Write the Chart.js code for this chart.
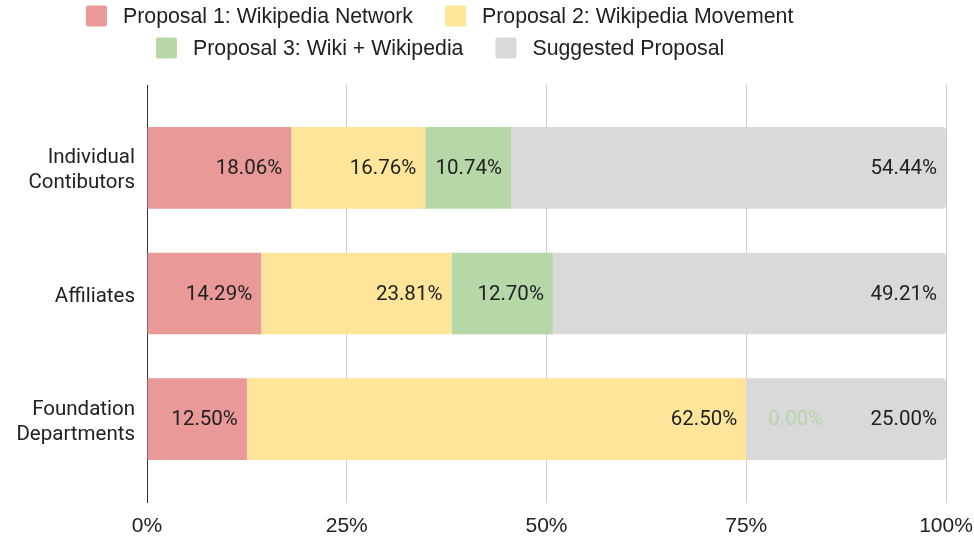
<!DOCTYPE html>
<html><head><meta charset="utf-8">
<script src="https://cdn.jsdelivr.net/npm/chart.js@4.4.0/dist/chart.umd.min.js"></script>
<style>html,body{margin:0;padding:0;background:#fff;}</style>
</head><body>
<canvas id="c" width="974" height="538"></canvas>
<script>
const categories = [['Individual', 'Contibutors'], 'Affiliates', ['Foundation', 'Departments']];
const seriesNames = ['Proposal 1: Wikipedia Network', 'Proposal 2: Wikipedia Movement', 'Proposal 3: Wiki + Wikipedia', 'Suggested Proposal'];
const proposal1 = [18.06, 14.29, 12.50];
const proposal2 = [16.76, 23.81, 62.50];
const proposal3 = [10.74, 12.70, 0.00];
const suggested = [54.44, 49.21, 25.00];
const xTickValues = [0, 25, 50, 75, 100];
const seriesColors = ['#ea9999', '#ffe599', '#b6d7a8', '#d9d9d9'];

const FONT = 'Roboto, "Liberation Sans", Arial, sans-serif';
const FONT2 = '"Liberation Sans", Arial, sans-serif';
const TEXT = '#212121';

const gridTop = {
  id: 'gridTop',
  beforeDatasetsDraw(chart) {
    const {ctx, chartArea, scales} = chart;
    ctx.save();
    ctx.lineWidth = 1;
    xTickValues.forEach(v => {
      const x = Math.round(scales.x.getPixelForValue(v) - 0.5) + 0.5;
      ctx.strokeStyle = v === 0 ? '#333333' : '#cccccc';
      ctx.beginPath();
      ctx.moveTo(x, 85);
      ctx.lineTo(x, chartArea.top);
      ctx.stroke();
    });
    ctx.restore();
  }
};

const valueLabels = {
  id: 'valueLabels',
  afterDatasetsDraw(chart) {
    const {ctx} = chart;
    ctx.save();
    ctx.font = '20.5px ' + FONT;
    ctx.textBaseline = 'middle';
    chart.data.datasets.forEach((ds, di) => {
      const meta = chart.getDatasetMeta(di);
      meta.data.forEach((el, i) => {
        const v = ds.data[i];
        const txt = v.toFixed(2) + '%';
        if (v > 0) {
          ctx.fillStyle = TEXT;
          ctx.textAlign = 'right';
          ctx.fillText(txt, el.x - 9, el.y + 1);
        } else {
          ctx.fillStyle = ds.backgroundColor;
          ctx.textAlign = 'left';
          ctx.fillText(txt, el.x + 22, el.y + 1);
        }
      });
    });
    ctx.restore();
  }
};

const customLegend = {
  id: 'customLegend',
  afterDraw(chart) {
    const {ctx} = chart;
    ctx.save();
    ctx.font = '21.3px ' + FONT2;
    ctx.textBaseline = 'middle';
    ctx.textAlign = 'left';
    const rows = [[0, 1], [2, 3]];
    const rowY = [16, 48];
    const box = 21, textOff = 37, gap = 32, center = 440;
    rows.forEach((row, r) => {
      const widths = row.map(i => textOff + ctx.measureText(chart.data.datasets[i].label).width);
      const total = widths.reduce((a, b) => a + b, 0) + gap * (row.length - 1);
      let x = Math.round(center - total / 2);
      row.forEach((i, k) => {
        const ds = chart.data.datasets[i];
        ctx.fillStyle = ds.backgroundColor;
        ctx.beginPath();
        ctx.roundRect(x, rowY[r] - box / 2, box, box, 2);
        ctx.fill();
        ctx.fillStyle = TEXT;
        ctx.fillText(ds.label, x + textOff, rowY[r] + 1);
        x += widths[k] + gap;
      });
    });
    ctx.restore();
  }
};

const seriesData = [proposal1, proposal2, proposal3, suggested];

new Chart(document.getElementById('c'), {
  type: 'bar',
  data: {
    labels: categories,
    datasets: seriesNames.map((name, i) => ({
      label: name,
      data: seriesData[i],
      backgroundColor: seriesColors[i],
      borderWidth: 0,
      borderRadius: i === 3 ? {topRight: 4, bottomRight: 4, topLeft: 0, bottomLeft: 0} : 0,
      borderSkipped: i === 3 ? 'start' : false,
      barPercentage: 0.65,
      categoryPercentage: 1
    }))
  },
  options: {
    indexAxis: 'y',
    responsive: false,
    animation: false,
    layout: {padding: {top: 105, right: 28, bottom: 1, left: 0}},
    plugins: {legend: {display: false}, tooltip: {enabled: false}},
    scales: {
      x: {
        type: 'linear', stacked: true, min: 0, max: 100,
        afterBuildTicks: s => { s.ticks = xTickValues.map(v => ({value: v})); },
        ticks: {callback: v => v + '%', font: {family: FONT2, size: 21}, color: TEXT, padding: 11, maxRotation: 0},
        grid: {color: c => (c.tick && c.tick.value === 0) ? '#333333' : '#cccccc', drawTicks: true, tickLength: 21, lineWidth: 1},
        border: {display: false},
        afterFit: s => { s.height = 55; s.paddingRight = 0; s.paddingLeft = 0; }
      },
      y: {
        stacked: true,
        grid: {display: false, drawTicks: false},
        border: {display: false},
        ticks: {font: {family: FONT, size: 20.5, lineHeight: 1.22}, color: TEXT, padding: 12, labelOffset: 3},
        afterFit: s => { s.width = 147; }
      }
    }
  },
  plugins: [gridTop, valueLabels, customLegend]
});
</script>
</body></html>
